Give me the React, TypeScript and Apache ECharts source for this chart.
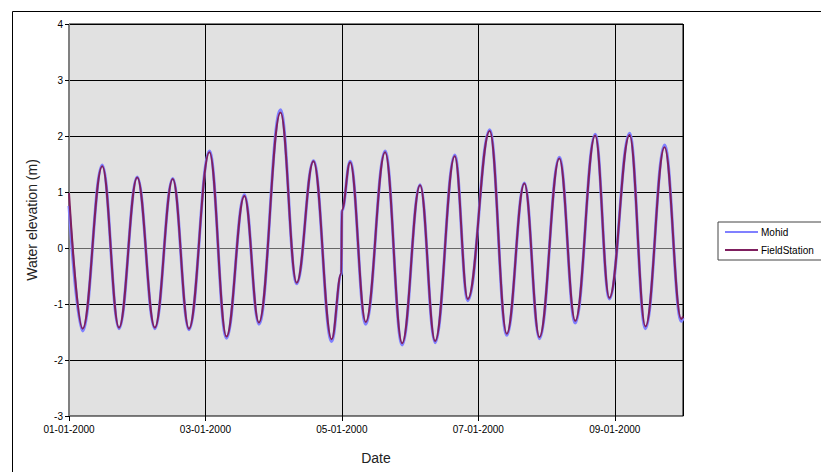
import React, { useEffect, useRef } from "react";
import * as echarts from "echarts";

// hours since 01-01-2000 00:00
const hoursFromStart = [0, 4.8, 11.7, 17.6, 24.0, 30.2, 36.5, 42.2, 49.4, 55.4, 61.7, 66.8, 74.4, 80.1, 86.0, 92.4, 95.8, 96.0, 98.9, 104.4, 111.2, 117.2, 123.5, 128.8, 135.7, 140.3, 148.0, 154.0, 160.2, 165.5, 172.5, 178.1, 185.1, 190.1, 197.2, 202.8, 209.5, 215.4, 216];
const fieldStation = [0.98, -1.44, 1.46, -1.42, 1.26, -1.42, 1.23, -1.44, 1.71, -1.58, 0.93, -1.33, 2.42, -0.62, 1.55, -1.63, -0.45, 0.68, 1.53, -1.32, 1.71, -1.70, 1.12, -1.66, 1.64, -0.91, 2.09, -1.53, 1.15, -1.59, 1.60, -1.30, 2.01, -0.89, 2.02, -1.40, 1.80, -1.27, -1.22];
const mohid = [0.75, -1.48, 1.48, -1.44, 1.27, -1.44, 1.24, -1.46, 1.73, -1.61, 0.95, -1.36, 2.47, -0.64, 1.56, -1.67, -0.47, 0.66, 1.55, -1.36, 1.73, -1.73, 1.13, -1.69, 1.66, -0.94, 2.11, -1.56, 1.16, -1.62, 1.62, -1.34, 2.03, -0.91, 2.05, -1.44, 1.84, -1.31, -1.25];
const seriesNames = ["Mohid", "FieldStation"];
const yTicks = { min: -3, max: 4, interval: 1 };
const xRange = { min: 0, max: 216, interval: 48 };

function dateLabel(h: number): string {
  const day = Math.round(h / 24) + 1;
  return (day < 10 ? "0" + day : "" + day) + "-01-2000";
}

export default function App() {
  const ref = useRef<HTMLDivElement>(null);
  useEffect(() => {
    if (!ref.current) return;
    const chart = echarts.init(ref.current, null, { renderer: "svg" });
    const font = "Arial, 'Liberation Sans', sans-serif";
    chart.setOption({
      animation: false,
      backgroundColor: "#ffffff",
      textStyle: { fontFamily: font },
      graphic: [
        {
          type: "rect",
          left: 10,
          top: 9,
          shape: { x: 0, y: 0, width: 830, height: 480 },
          style: { fill: "none", stroke: "#000", lineWidth: 1 },
          silent: true,
        },
      ],
      grid: {
        left: 69,
        top: 24,
        width: 614,
        height: 392,
        show: true,
        backgroundColor: "#e1e1e1",
        borderColor: "#000",
        borderWidth: 1,
        containLabel: false,
      },
      legend: {
        orient: "vertical",
        left: 718,
        top: 222,
        data: seriesNames.map((n) => ({ name: n, icon: "rect" })),
        borderColor: "#444",
        borderWidth: 1,
        padding: [5, 12, 5, 7],
        itemGap: 8,
        itemWidth: 33,
        itemHeight: 2,
        textStyle: { fontSize: 10, fontFamily: font, color: "#000", padding: [0, 0, 0, -2] },
      },
      xAxis: {
        type: "value",
        min: xRange.min,
        max: xRange.max,
        interval: xRange.interval,
        name: "Date",
        nameLocation: "middle",
        nameGap: 35,
        nameTextStyle: { fontSize: 14, color: "#222", fontFamily: font },
        axisLine: { show: true, onZero: false, lineStyle: { color: "#808080", width: 1 } },
        axisTick: { show: true, length: 5, lineStyle: { color: "#000" } },
        axisLabel: { formatter: (v: number) => dateLabel(v), fontSize: 10, color: "#000", margin: 8, fontFamily: font, showMaxLabel: false },
        splitLine: { show: true, lineStyle: { color: "#000", width: 1 } },
      },
      yAxis: {
        type: "value",
        min: yTicks.min,
        max: yTicks.max,
        interval: yTicks.interval,
        name: "Water elevation (m)",
        nameLocation: "middle",
        nameGap: 30,
        nameTextStyle: { fontSize: 14, color: "#222", fontFamily: font },
        axisLine: { show: true, lineStyle: { color: "#808080", width: 1 } },
        axisTick: { show: true, length: 4, lineStyle: { color: "#000" } },
        axisLabel: { fontSize: 10, color: "#000", margin: 6, fontFamily: font },
        splitLine: { show: true, lineStyle: { color: ["#000", "#000", "#000", "#666", "#000", "#000", "#000", "#000"], width: 1 } },
      },
      series: [
        {
          name: seriesNames[0],
          type: "line",
          data: hoursFromStart.map((h, i) => [h, mohid[i]]),
          symbol: "none",
          smooth: 0.4,
          smoothMonotone: "x",
          lineStyle: { color: "#8080ff", width: 3 },
          itemStyle: { color: "#8080ff" },
          z: 2,
        },
        {
          name: seriesNames[1],
          type: "line",
          data: hoursFromStart.map((h, i) => [h, fieldStation[i]]),
          symbol: "none",
          smooth: 0.4,
          smoothMonotone: "x",
          lineStyle: { color: "#7f1f5f", width: 2 },
          itemStyle: { color: "#7f1f5f" },
          z: 3,
        },
      ],
    });
    return () => chart.dispose();
  }, []);
  return <div ref={ref} style={{ position: "fixed", left: 0, top: 0, width: 821, height: 472 }} />;
}
